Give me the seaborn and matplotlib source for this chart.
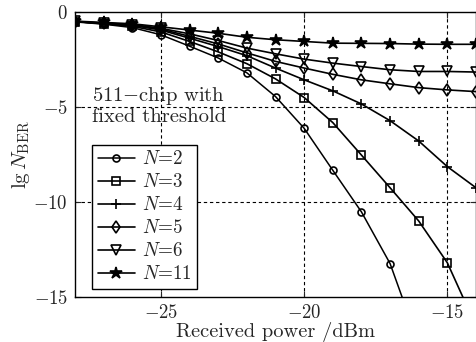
import matplotlib
matplotlib.use("Agg")
import matplotlib.pyplot as plt
from matplotlib.ticker import FuncFormatter, FixedLocator
import pandas as pd
import seaborn as sns

# Received optical power (dBm) and lg(BER) for each threshold order N
power = [-28, -27, -26, -25, -24, -23, -22, -21, -20, -19, -18, -17, -16, -15, -14]
ber_n2 = [-0.52, -0.64, -0.82, -1.20, -1.80, -2.42, -3.20, -4.45, -6.12, -8.33, -10.52, -13.24, -17.44]
ber_n3 = [-0.50, -0.62, -0.75, -1.05, -1.55, -2.10, -2.72, -3.52, -4.50, -5.82, -7.53, -9.25, -11.00, -13.20, -16.53]
ber_n4 = [-0.50, -0.61, -0.70, -0.95, -1.38, -1.82, -2.30, -2.95, -3.57, -4.15, -4.84, -5.72, -6.79, -8.14, -9.25]
ber_n5 = [-0.50, -0.60, -0.68, -0.90, -1.28, -1.68, -2.15, -2.60, -2.95, -3.28, -3.57, -3.78, -3.98, -4.10, -4.19]
ber_n6 = [-0.49, -0.59, -0.66, -0.86, -1.15, -1.50, -1.90, -2.20, -2.48, -2.69, -2.87, -3.04, -3.13, -3.13, -3.16]
ber_n11 = [-0.48, -0.55, -0.62, -0.78, -0.95, -1.12, -1.33, -1.46, -1.55, -1.64, -1.65, -1.66, -1.69, -1.70, -1.70]

labels = ["2", "3", "4", "5", "6", "11"]
series = [ber_n2, ber_n3, ber_n4, ber_n5, ber_n6, ber_n11]
x_ticks = [-25, -20, -15]
y_ticks = [0, -5, -10, -15]

sns.set_style("ticks")
plt.rcParams.update({
    "font.family": ["cmr10"],
    "mathtext.fontset": "cm",
    "axes.formatter.use_mathtext": True,
    "axes.unicode_minus": False,
    "font.size": 14,
})

styles = {
    "2": dict(marker="o", ms=5, mfc="none", lw=1.1),
    "3": dict(marker="s", ms=5.8, mfc="none", lw=1.2),
    "4": dict(marker="+", ms=7, mfc="none", lw=1.2),
    "5": dict(marker="d", ms=6, mfc="none", lw=1.2),
    "6": dict(marker="v", ms=6.8, mfc="none", lw=1.2),
    "11": dict(marker="*", ms=9, mfc="black", lw=1.2),
}

fig = plt.figure(figsize=(4.77, 3.42), dpi=100)
ax = fig.add_axes([75 / 477, 45 / 342, 401 / 477, 285 / 342])

for lab, vals in zip(labels, series):
    df = pd.DataFrame({"power": power[:len(vals)], "ber": vals})
    st = styles[lab]
    sns.lineplot(data=df, x="power", y="ber", ax=ax, color="black",
                 marker=st["marker"], markersize=st["ms"],
                 markerfacecolor=st["mfc"], markeredgecolor="black",
                 markeredgewidth=1.2, linewidth=st["lw"],
                 label=f"$N$={lab}", clip_on=True)

ax.set_xlim(-28, -14)
ax.set_ylim(-15, 0)
ax.xaxis.set_major_locator(FixedLocator(x_ticks))
ax.yaxis.set_major_locator(FixedLocator(y_ticks))
ax.xaxis.set_major_formatter(FuncFormatter(lambda v, p: f"${v:g}$"))
ax.yaxis.set_major_formatter(FuncFormatter(lambda v, p: f"${v:g}$"))
ax.tick_params(direction="in", length=4, width=0.8, top=True, right=True,
               labelsize=13.5, pad=5)

for v in x_ticks:
    ax.axvline(v, color="black", lw=0.8, ls=(0, (3, 2.5)), zorder=0)
for v in [-5, -10]:
    ax.axhline(v, color="black", lw=0.8, ls=(0, (3, 2.5)), zorder=0)

for sp in ax.spines.values():
    sp.set_color("black")
    sp.set_linewidth(1.0)

ax.set_xlabel("Received power /dBm", fontsize=14.7, labelpad=0)
ax.set_ylabel(r"$\mathrm{lg}\,N_{\mathrm{BER}}$", fontsize=15, labelpad=1)

ax.text(0.042, 0.745, "511$-$chip with\nfixed threshold", transform=ax.transAxes,
        fontsize=14.8, va="top", ha="left", linespacing=1.1)

leg = ax.legend(loc="lower left", bbox_to_anchor=(0.042, 0.028), frameon=True,
                fancybox=False, edgecolor="black", framealpha=1,
                fontsize=13.8, handlelength=1.95, handletextpad=0.35,
                labelspacing=0.26, borderpad=0.3, borderaxespad=0)
leg.get_frame().set_linewidth(1.0)

fig.savefig("out.png", dpi=100)
